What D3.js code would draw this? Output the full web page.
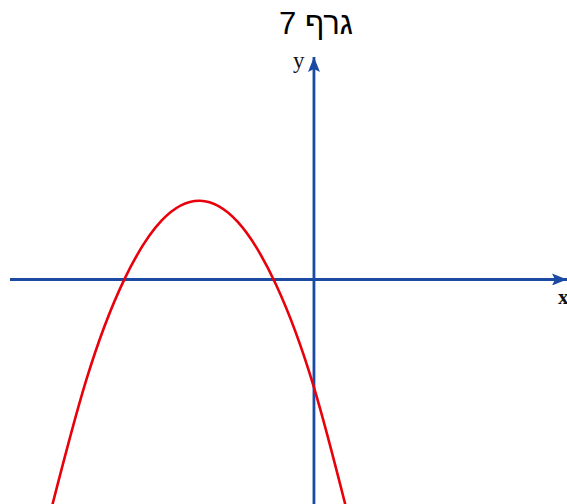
<!DOCTYPE html>
<html lang="he">
<head>
<meta charset="UTF-8">
<title>גרף 7</title>
<script src="https://d3js.org/d3.v7.min.js"></script>
<style>
  body { margin: 0; background: #fff; }
  svg { display: block; }
</style>
</head>
<body>
<svg width="567" height="504"></svg>
<script>
// points (math units)
const curveX = [-7, -6, -5, -4, -3, -2, -1, 0, 1];
const curveY = [-12.1, -5.06, -0.03, 2.96, 3.93, 2.86, -0.25, -5.38, -12.55];

const titleText = "גרף 7";
const xLabel = "x", yLabel = "y";
const xRange = [-8, 6.66];
const yRange = [-11.2, 11.1];

const svg = d3.select("svg");
const W = 567, H = 504;

const x = d3.scaleLinear().domain(xRange).range([10, 567]);
const y = d3.scaleLinear().domain(yRange).range([504, 57]);

const blue = "#1b4aa3", red = "#e8000b";

// arrow markers
const defs = svg.append("defs");
defs.append("marker")
    .attr("id", "arr")
    .attr("viewBox", "0 0 15 12")
    .attr("refX", 15).attr("refY", 6)
    .attr("markerWidth", 15).attr("markerHeight", 12)
    .attr("markerUnits", "userSpaceOnUse")
    .attr("orient", "auto")
  .append("path")
    .attr("d", "M0,0 L15,6 L0,12 L3,6 Z")
    .attr("fill", blue);

defs.append("clipPath").attr("id", "clip")
  .append("rect").attr("x", 0).attr("y", 0).attr("width", W).attr("height", H);

// x axis
svg.append("line")
    .attr("x1", x(xRange[0])).attr("x2", x(xRange[1]))
    .attr("y1", y(0)).attr("y2", y(0))
    .attr("stroke", blue).attr("stroke-width", 2.8)
    .attr("marker-end", "url(#arr)");

// y axis
svg.append("line")
    .attr("x1", x(0)).attr("x2", x(0))
    .attr("y1", y(yRange[0])).attr("y2", y(yRange[1]))
    .attr("stroke", blue).attr("stroke-width", 2.8)
    .attr("marker-end", "url(#arr)");

// curve
const pts = curveX.map((d, i) => [d, curveY[i]]);
const line = d3.line()
    .x(d => x(d[0]))
    .y(d => y(d[1]))
    .curve(d3.curveNatural);

svg.append("path")
    .attr("clip-path", "url(#clip)")
    .attr("d", line(pts))
    .attr("fill", "none")
    .attr("stroke", red)
    .attr("stroke-width", 2.6);

// labels
svg.append("text")
    .attr("x", x(0) - 21).attr("y", y(yRange[1]) + 11)
    .attr("font-family", "'Liberation Serif', 'DejaVu Serif', serif")
    .attr("font-size", 23)
    .attr("fill", "#111")
    .text(yLabel);

svg.append("text")
    .attr("x", 558).attr("y", y(0) + 25)
    .attr("font-family", "'Liberation Serif', 'DejaVu Serif', serif")
    .attr("font-size", 21)
    .attr("font-weight", "bold")
    .attr("fill", "#111")
    .text(xLabel);

svg.append("text")
    .attr("x", 316).attr("y", 34)
    .attr("text-anchor", "middle")
    .attr("direction", "rtl")
    .attr("font-family", "'Liberation Sans', Arial, sans-serif")
    .attr("font-size", 31)
    .attr("fill", "#000")
    .text(titleText);
</script>
</body>
</html>
